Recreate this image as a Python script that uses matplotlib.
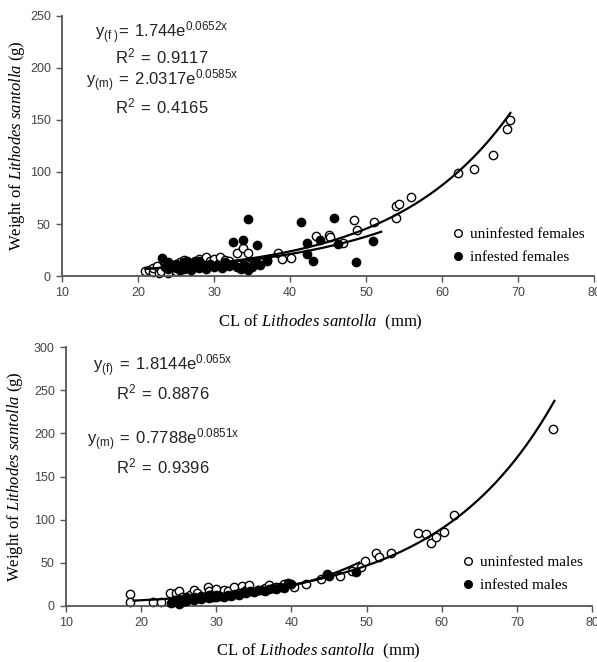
import numpy as np
import matplotlib
matplotlib.use("Agg")
import matplotlib.pyplot as plt
from matplotlib.lines import Line2D

plt.rcParams['mathtext.fontset'] = 'custom'
plt.rcParams['mathtext.rm'] = 'Liberation Serif'
plt.rcParams['mathtext.it'] = 'Liberation Serif:italic'
plt.rcParams['mathtext.sf'] = 'Liberation Sans'

# ---------------- data ----------------
fem_uninf = [(20.9, 5), (21.5, 6), (22.0, 4), (22.0, 8), (22.5, 10), (22.8, 2.5), (23.0, 5),
             (23.5, 12), (24.0, 6), (24.0, 3), (24.5, 9), (25.0, 5), (25.5, 13), (26.0, 15),
             (26.5, 12), (27.0, 9), (27.5, 14), (28.0, 16), (28.5, 11), (29.0, 18), (29.5, 14),
             (30.0, 16), (30.5, 12), (30.8, 18), (31.0, 10), (31.5, 15), (32.0, 14), (33.0, 12),
             (33.0, 22), (33.8, 27), (34.5, 22), (34.7, 11), (35.0, 9), (36.0, 13), (37.0, 14),
             (38.4, 22), (39.0, 16), (40.1, 17), (43.4, 38.5), (45.1, 39), (45.3, 37.5),
             (47.0, 32), (48.4, 54), (48.8, 44), (51.0, 52), (54.0, 56), (54.0, 67), (54.3, 69),
             (55.9, 76), (62.1, 99), (64.2, 103), (66.7, 116), (68.6, 141), (69.0, 150)]
fem_inf = [(23.2, 17), (23.5, 9), (24.0, 7), (24.0, 13), (24.5, 11), (25.0, 8), (25.0, 12),
           (25.0, 10), (25.5, 10), (25.5, 6), (26.0, 13), (26.0, 9), (26.0, 7), (26.5, 11),
           (26.5, 14), (26.5, 8), (27.0, 10), (27.0, 12), (27.0, 6), (27.5, 9), (27.5, 13),
           (28.0, 8), (28.0, 11), (28.0, 14), (28.5, 10), (29.0, 7), (29.0, 9), (29.5, 12),
           (30.0, 9), (30.5, 11), (31.0, 8), (31.5, 13), (32.0, 10), (32.5, 12), (32.5, 33),
           (33.0, 9), (33.5, 7), (33.8, 35), (34.0, 11), (34.5, 6), (34.5, 55), (35.0, 10),
           (35.5, 13), (35.7, 30), (36.0, 11), (37.0, 15), (41.4, 52), (42.2, 32), (42.2, 21),
           (43.0, 14), (43.9, 35), (45.8, 56), (46.3, 31), (48.7, 13), (50.9, 34)]
male_uninf = [(18.5, 14), (18.5, 5), (21.6, 5), (22.6, 5), (23.8, 15), (24.7, 15), (25.0, 17),
              (25.5, 10), (26.0, 8), (26.5, 13), (27.0, 19), (27.4, 15), (28.0, 11), (28.9, 22),
              (29.0, 17), (29.5, 14), (30.0, 20), (31.0, 12), (31.0, 19), (31.5, 17), (32.4, 22),
              (33.0, 15), (33.4, 23), (34.0, 19), (34.4, 24), (35.5, 18), (36.5, 21), (37.0, 24),
              (38.0, 22), (39.0, 26), (40.4, 22), (42.0, 25), (44.0, 31), (46.5, 35), (48.0, 40),
              (49.2, 45), (49.8, 52), (51.3, 61), (51.7, 57), (53.3, 61), (56.9, 85), (57.9, 83),
              (58.6, 73), (59.3, 80), (60.3, 86), (61.7, 105), (74.8, 205)]
male_inf = [(24.0, 4), (24.5, 7), (25.0, 2), (25.0, 8), (25.5, 5), (26.0, 6), (26.0, 10),
            (26.5, 8), (27.0, 7), (27.0, 11), (27.5, 9), (28.0, 8), (28.0, 12), (28.5, 10),
            (29.0, 9), (29.0, 13), (29.5, 11), (30.0, 10), (30.0, 13), (30.5, 12), (31.0, 11),
            (31.5, 13), (32.0, 12), (32.5, 14), (33.0, 13), (33.5, 16), (34.0, 15), (34.5, 17),
            (35.0, 16), (35.5, 18), (36.0, 19), (36.5, 17), (37.0, 20), (37.5, 21), (38.0, 20),
            (38.5, 22), (39.0, 21), (39.6, 27), (40.0, 25), (44.7, 37), (45.0, 35), (48.6, 39)]

# fitted curves: (a, b, xmin, xmax) for y = a*exp(b*x)
fit_fem_uninf = (1.744, 0.0652, 21, 69)
fit_fem_inf = (2.0317, 0.0585, 21, 52)
fit_male_uninf = (1.8144, 0.065, 19, 75)
fit_male_inf = (0.7788, 0.0851, 24, 49)

eq_top = [r"$\mathsf{y_{(f\ )}\!=\ 1.744e^{0.0652x}}$", r"$\mathsf{R^2\ =\ 0.9117}$",
          r"$\mathsf{y_{(m)}\ =\ 2.0317e^{0.0585x}}$", r"$\mathsf{R^2\ =\ 0.4165}$"]
eq_bot = [r"$\mathsf{y_{(f)}\ =\ 1.8144e^{0.065x}}$", r"$\mathsf{R^2\ =\ 0.8876}$",
          r"$\mathsf{y_{(m)}\ =\ 0.7788e^{0.0851x}}$", r"$\mathsf{R^2\ =\ 0.9396}$"]

xticks = [10, 20, 30, 40, 50, 60, 70, 80]
yticks_top = [0, 50, 100, 150, 200, 250]
yticks_bot = [0, 50, 100, 150, 200, 250, 300]

ylabel = r"Weight of $\mathit{Lithodes\ santolla}$ (g)"
xlabel = r"CL of $\mathit{Lithodes\ santolla}$  (mm)"

W, H = 597, 662
fig = plt.figure(figsize=(W / 100, H / 100), dpi=100)

def px_axes(l, r, b, t):
    return fig.add_axes([l / W, 1 - b / H, (r - l) / W, (b - t) / H])

ax1 = px_axes(62, 594, 276, 16)
ax2 = px_axes(66, 592, 606, 347)

def style(ax, yticks, ymax):
    ax.set_xlim(10, 80)
    ax.set_ylim(0, ymax)
    ax.set_xticks(xticks)
    ax.set_yticks(yticks)
    for s in ['top', 'right']:
        ax.spines[s].set_visible(False)
    for s in ['left', 'bottom']:
        ax.spines[s].set_color('#555555')
        ax.spines[s].set_linewidth(1.3)
    ax.tick_params(direction='out', length=4, width=1, color='#555555',
                   labelsize=9, labelcolor='#444444', pad=4)
    for lab in ax.get_xticklabels() + ax.get_yticklabels():
        lab.set_fontfamily('Liberation Sans')
    ax.set_ylabel(ylabel, fontfamily='Liberation Serif', fontsize=12)
    ax.set_xlabel(xlabel, fontfamily='Liberation Serif', fontsize=12)

def scatter(ax, pts, filled):
    x = [p[0] for p in pts]
    y = [p[1] for p in pts]
    ax.plot(x, y, 'o', ms=6, mfc='black' if filled else 'white', mec='black',
            mew=1.0, ls='none', zorder=3 if filled else 2, clip_on=False)

def curve(ax, fit):
    a, b, x0, x1 = fit
    xs = np.linspace(x0, x1, 200)
    ax.plot(xs, a * np.exp(b * xs), color='black', lw=1.6, zorder=4)

style(ax1, yticks_top, 250)
style(ax2, yticks_bot, 300)

scatter(ax1, fem_uninf, False)
scatter(ax1, fem_inf, True)
curve(ax1, fit_fem_uninf)
curve(ax1, fit_fem_inf)

scatter(ax2, male_uninf, False)
scatter(ax2, male_inf, True)
curve(ax2, fit_male_uninf)
curve(ax2, fit_male_inf)

ax1.yaxis.set_label_coords(-0.066, 0.5)
ax2.yaxis.set_label_coords(-0.078, 0.5)
ax1.xaxis.set_label_coords(0.485, -0.14)
ax2.xaxis.set_label_coords(0.48, -0.14)

# equations
def put_eqs(ax, eqs, ys, xc):
    for s, yp in zip(eqs, ys):
        fig.text(xc / W, 1 - yp / H, s, fontsize=12, ha='center', va='center', color='#222222')

put_eqs(ax1, eq_top, [33, 57, 81, 107], 162)
put_eqs(ax2, eq_bot, [366, 393, 440, 467], 163)

# legends
def legend(ax, labels, x, y):
    handles = [Line2D([], [], marker='o', ls='none', ms=5.5, mfc='white', mec='black', mew=1),
               Line2D([], [], marker='o', ls='none', ms=5.5, mfc='black', mec='black', mew=1)]
    ax.legend(handles, labels, loc='center left', bbox_to_anchor=(x, y), frameon=False,
              prop={'family': 'Liberation Serif', 'size': 11}, handlelength=0.6,
              handletextpad=0.5, labelspacing=0.6, borderpad=0, borderaxespad=0)

legend(ax1, ['uninfested females', 'infested females'], 0.735, 0.117)
legend(ax2, ['uninfested males', 'infested males'], 0.755, 0.124)

fig.savefig('out.png', dpi=100)
